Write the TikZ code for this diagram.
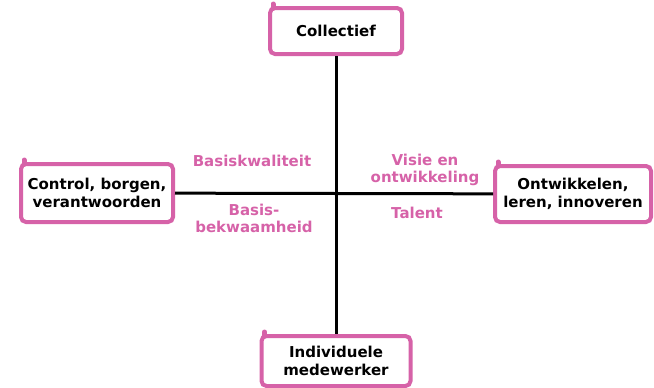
\documentclass[tikz,border=0pt]{standalone}
\usepackage{fontspec}
\setmainfont{DejaVu Sans}
\usepackage{tikz}

\definecolor{roze}{RGB}{214,98,168}

\begin{document}
\begin{tikzpicture}[x=1pt,y=-1pt,
    pool/.style={draw=roze, line width=4pt, rounded corners=5pt, fill=white, align=center,
                 font=\fontsize{15}{18}\selectfont\bfseries, inner sep=2pt},
    kwadrant/.style={text=roze, align=center, font=\fontsize{15}{17}\selectfont\bfseries}]
    \useasboundingbox (0,0) rectangle (654,388);
    % as-lijnen
    \node[pool, minimum width=132pt, minimum height=46pt] (collectief) at (336,31) {Collectief};
    \node[pool, minimum width=149pt, minimum height=50pt] (individu) at (336,361) {Individuele\\medewerker};
    \node[pool, minimum width=152pt, minimum height=58pt] (control) at (97,193) {Control, borgen,\\verantwoorden};
    \node[pool, minimum width=156pt, minimum height=56pt] (ontwikkel) at (573,194) {Ontwikkelen,\\leren, innoveren};
    \draw[line width=3pt] (collectief) -- (individu);
    \draw[line width=3pt] (control) -- (ontwikkel);
    \foreach \n in {collectief,individu,control,ontwikkel}
        \draw[roze, line width=5pt, line cap=round] (\n.north west) ++(5,2) -- ++(0,-4);
    % kwadranten
    \node[kwadrant] (kwaliteit) at (252,161) {Basiskwaliteit};
    \node[kwadrant] (visie) at (425,170) {Visie en\\ontwikkeling};
    \node[kwadrant] (bekwaam) at (254,218) {Basis-\\bekwaamheid};
    \node[kwadrant] (talent) at (417,213) {Talent};
\end{tikzpicture}
\end{document}
